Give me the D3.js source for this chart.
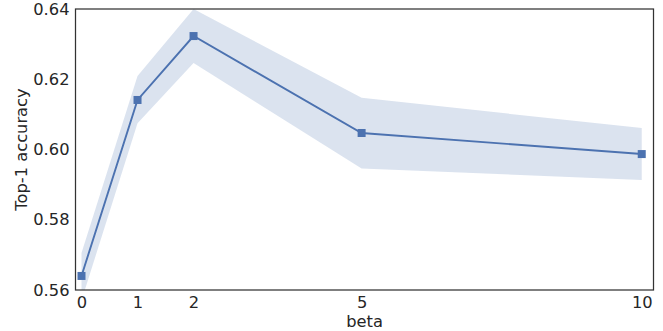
<!DOCTYPE html>
<html><head><meta charset="utf-8">
<script src="https://cdn.jsdelivr.net/npm/d3@7"></script>
<style>body{margin:0;background:#fff}svg{display:block}text{font-family:"DejaVu Sans",sans-serif;fill:#262626}</style>
</head><body><svg id="c" width="663" height="331"></svg>
<script>
const betas = [0, 1, 2, 5, 10];
const meanAcc = [0.5640, 0.6141, 0.6323, 0.6047, 0.5987];
const upperAcc = [0.5705, 0.6209, 0.6400, 0.6147, 0.6061];
const lowerAcc = [0.5570, 0.6075, 0.6246, 0.5946, 0.5913];
const xTicks = [0, 1, 2, 5, 10];
const yTicks = [0.56, 0.58, 0.60, 0.62, 0.64];

const svg = d3.select("#c");
const L = 75.5, R = 653.5, T = 9, B = 290;
const FS = 16.3;
const x = d3.scaleLinear().domain([-0.107, 10.21]).range([L, R]);
const y = d3.scaleLinear().domain([0.56, 0.64]).range([B, T]);

svg.append("defs").append("clipPath").attr("id","clip")
  .append("rect").attr("x",L).attr("y",T).attr("width",R-L).attr("height",B-T);

const data = betas.map((b,i)=>({b, m:meanAcc[i], u:upperAcc[i], l:lowerAcc[i]}));
const g = svg.append("g").attr("clip-path","url(#clip)");
g.append("path").datum(data)
  .attr("d", d3.area().x(d=>x(d.b)).y0(d=>y(d.l)).y1(d=>y(d.u)))
  .attr("fill","#4c72b0").attr("fill-opacity",0.2);
g.append("path").datum(data)
  .attr("d", d3.line().x(d=>x(d.b)).y(d=>y(d.m)))
  .attr("fill","none").attr("stroke","#4c72b0").attr("stroke-width",1.9);
g.selectAll("rect.m").data(data).join("rect").attr("class","m")
  .attr("x",d=>x(d.b)-4).attr("y",d=>y(d.m)-4).attr("width",8).attr("height",8)
  .attr("fill","#4c72b0");

const xa = svg.append("g").attr("transform",`translate(0,${B})`)
  .call(d3.axisBottom(x).tickValues(xTicks).tickFormat(d3.format("d")).tickSize(0).tickPadding(6));
const ya = svg.append("g").attr("transform",`translate(${L},0)`)
  .call(d3.axisLeft(y).tickValues(yTicks).tickFormat(d3.format(".2f")).tickSize(0).tickPadding(6));
[xa,ya].forEach(a=>{a.select(".domain").remove();a.selectAll("text").attr("font-size",FS).attr("fill","#262626").attr("font-family","DejaVu Sans");});

svg.append("rect").attr("x",L).attr("y",T).attr("width",R-L).attr("height",B-T)
  .attr("fill","none").attr("stroke","#333").attr("stroke-width",1.25);

svg.append("text").attr("x",(L+R)/2).attr("y",327).attr("text-anchor","middle").attr("font-size",FS).text("beta");
svg.append("text").attr("transform",`translate(27,${(T+B)/2}) rotate(-90)`).attr("text-anchor","middle").attr("font-size",FS).text("Top-1 accuracy");
</script></body></html>
